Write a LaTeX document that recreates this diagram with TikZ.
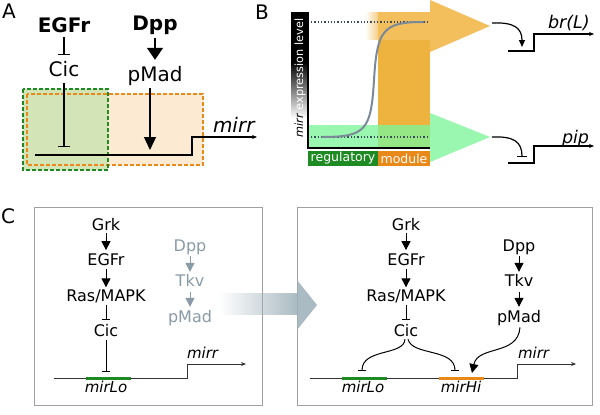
\documentclass[tikz,border=0pt]{standalone}
\usepackage{fontspec}
\setmainfont{DejaVu Sans}[ItalicFont={DejaVu Sans Oblique},BoldFont={DejaVu Sans Bold}]
\usetikzlibrary{arrows.meta,shadows,fadings}
\tikzfading[name=fadeinright, left color=transparent!100, right color=transparent!0]
\definecolor{boxgreen}{HTML}{D3E5B6}
\definecolor{boxorange}{HTML}{FCEBD2}
\definecolor{dgreen}{HTML}{1E8A22}
\definecolor{dorange}{HTML}{E8891A}
\definecolor{arrOrange}{HTML}{F3BE5C}
\definecolor{bandOrange}{HTML}{EDB33E}
\definecolor{arrGreen}{HTML}{7DF59A}
\definecolor{curvegray}{HTML}{7A8A98}
\definecolor{dotcol}{HTML}{3A4A5A}
\definecolor{softgray}{HTML}{8A9BA8}
\definecolor{bigarrow}{HTML}{9DB0B9}
\definecolor{boxline}{HTML}{A0A0A0}
\definecolor{geneC}{HTML}{333333}
\begin{document}
\begin{tikzpicture}[x=1pt,y=-1pt,
  every node/.style={inner sep=0pt,outer sep=0pt},
  panel/.style={font=\fontsize{20}{24}\selectfont},
  fA/.style={font=\fontsize{20}{24}\selectfont,anchor=base},
  fAb/.style={font=\fontsize{20}{24}\selectfont\bfseries,anchor=base},
  fAi/.style={font=\fontsize{20}{24}\selectfont\itshape,anchor=base west},
  fBi/.style={font=\fontsize{17.5}{21}\selectfont\itshape,anchor=base west},
  fC/.style={font=\fontsize{16}{19}\selectfont,anchor=base},
  fCi/.style={font=\fontsize{15}{18}\selectfont\itshape,anchor=base},
  fCg/.style={fC,text=softgray},
  actA/.style={line width=1.3pt,-{Triangle[length=12pt,width=16pt]}},
  actA2/.style={line width=1.3pt,-{Triangle[length=13pt,width=12pt]}},
  inhA/.style={line width=1.3pt,-{Bar[width=12pt,line width=1.3pt]}},
  actC/.style={line width=1pt,-{Triangle[length=9pt,width=9pt]}},
  inhC/.style={line width=1pt,-{Bar[width=8pt,line width=1pt]}},
  geneA/.style={line width=1.3pt},
  geneB/.style={line width=1.2pt,-{Stealth[length=5pt,width=4pt]}},
  geneCs/.style={line width=0.9pt,geneC,-{Stealth[length=5pt,width=4pt]}},
  cbox/.style={draw=boxline,line width=0.8pt,fill=white,drop shadow={opacity=0.25,shadow xshift=1.2pt,shadow yshift=-1.2pt}},
  dotl/.style={dotted,line width=1.3pt,dotcol},
  seg/.style={line width=3pt,line cap=butt},
  dashbox/.style={line width=1.4pt,dash pattern=on 4pt off 2pt}
]
\useasboundingbox (0,0) rectangle (600,415);
\fill[white] (0,0) rectangle (600,415);

%% ---------------- Panel A ----------------
\node[panel] (labA) at (9,11) {A};
\fill[boxgreen] (23,89) rectangle (108,170);
\fill[boxorange] (108,94) rectangle (203,165);
\draw[dorange,dashbox] (27,94) rectangle (203,165);
\draw[dgreen,dashbox] (23,89) rectangle (108,170);

\node[fAb] (egfrA) at (64,32) {EGFr};
\node[fA] (cicA) at (64,76) {Cic};
\node[fAb] (dppA) at (155,30) {Dpp};
\node[fA] (pmadA) at (155,81) {pMad};
\node[fAi] (mirrA) at (213,132) {mirr};
\coordinate (cicAt) at (64,147);
\coordinate (pmadAt) at (150,150);
\coordinate (gA0) at (35,155);
\coordinate (gA1) at (192,137);
\coordinate (gA2) at (257,137);

\draw[inhA,shorten <=5pt,shorten >=6pt] (egfrA) -- (cicA);
\draw[actA,shorten <=4pt,shorten >=6pt] (dppA) -- (pmadA);
\draw[inhA] (cicA.south) ++(0,7) -- (cicAt);
\draw[actA2] (pmadA.south -| pmadAt) ++(0,3) -- (pmadAt);
\draw[geneA,-{Stealth[length=5pt,width=4pt]}] (gA0) -| (gA1) -- (gA2);

%% ---------------- Panel B ----------------
\node[panel] (labB) at (262,12) {B};
% orange band + arrow
\fill[bandOrange] (378,40) rectangle (430,148);
\fill[arrOrange] (378,12) -- (430,12) -- (430,0) -- (490,26) -- (430,52) -- (430,40) -- (378,40) -- cycle;
\foreach \i in {0,...,5} {
  \fill[arrOrange,opacity={0.06+0.12*\i}] ({366+2*\i},12) rectangle ({368+2*\i},40);
}
% green arrow
\fill[arrGreen,opacity=0.78] (308,125) -- (430,125) -- (430,113) -- (490,137) -- (430,162) -- (430,148) -- (308,148) -- cycle;
% dotted levels
\draw[dotl] (311,22) -- (428,22);
\draw[dotl] (311,137) -- (428,137);
% sigmoid
\draw[curvegray,line width=2pt,line cap=round] (322,137) .. controls (366,137) and (371,130) .. (374,80) .. controls (377,30) and (383,22) .. (423,22);
% y axis bar
\fill[black] (291,12) rectangle (308,62);
\shade[top color=black,bottom color=white] (291,62) rectangle (308,118);
\node[rotate=90,font=\fontsize{11.3}{13}\selectfont,text=white] (ylab) at (300,78) {{\color{black}\itshape mirr} expression level};
\draw[line width=1.5pt] (308,12) -- (308,148) -- (430,148);
% bottom bar
\node[fill=dgreen,text=white,minimum width=70pt,minimum height=15pt,anchor=north west,font=\fontsize{12.5}{14}\selectfont] (reg) at (308,151) {regulatory};
\node[fill=dorange,text=white,minimum width=52pt,minimum height=15pt,anchor=north west,font=\fontsize{12.5}{14}\selectfont] (mod) at (378,151) {module};
% targets
\coordinate (tipO) at (492,23);
\coordinate (tipG) at (492,137);
\coordinate (brT) at (522,47);
\coordinate (pipT) at (522,157);
\coordinate (brG0) at (508,51);
\coordinate (brG1) at (534,34);
\coordinate (brG2) at (594,34);
\coordinate (pipG0) at (508,163);
\coordinate (pipG1) at (534,146);
\coordinate (pipG2) at (594,146);
\node[fBi] (brL) at (548,28) {br(L)};
\node[fBi] (pip) at (562,143) {pip};
\draw[line width=1.2pt,-{Triangle[length=7pt,width=6pt]}] (tipO) .. controls (514,22) and (522,28) .. (brT);
\draw[line width=1.2pt,-{Bar[width=10pt,line width=1.2pt]}] (tipG) .. controls (514,136) and (522,142) .. (pipT);
\draw[geneB] (brG0) -| (brG1) -- (brG2);
\draw[geneB] (pipG0) -| (pipG1) -- (pipG2);

%% ---------------- Panel C ----------------
\node[panel] (labC) at (8,216) {C};
\draw[cbox] (34,207) rectangle (262,405);
\draw[cbox] (297,207) rectangle (592,405);

% left box
\node[fC] (grkL) at (106,230) {Grk};
\node[fC] (egfrL) at (106,265) {EGFr};
\node[fC] (rasL) at (106,301) {Ras/MAPK};
\node[fC] (cicL) at (106,336) {Cic};
\node[fCg] (dppL) at (190,251) {Dpp};
\node[fCg] (tkvL) at (190,286) {Tkv};
\node[fCg] (pmadL) at (190,322) {pMad};
\node[fCi] (mirLoL) at (106,392) {mirLo};
\node[fCi,anchor=base west] (mirrL) at (187,358) {mirr};
\coordinate (cicLt) at (106,372);
\coordinate (gL0) at (54,378);
\coordinate (gL1) at (187,364);
\coordinate (gL2) at (246,364);
\coordinate (sL0) at (86,378);
\coordinate (sL1) at (131,378);

\draw[actC,shorten <=3pt,shorten >=3pt] (grkL) -- (egfrL);
\draw[actC,shorten <=4pt,shorten >=2pt] (egfrL) -- (rasL);
\draw[inhC,shorten <=2.5pt,shorten >=4pt] (rasL) -- (cicL);
\draw[inhC] (cicL.south) ++(0,4) -- (cicLt);
\draw[actC,softgray,shorten <=2pt,shorten >=2pt] (dppL) -- (tkvL);
\draw[actC,softgray,shorten <=6pt,shorten >=3pt] (tkvL) -- (pmadL);
\draw[geneCs] (gL0) -| (gL1) -- (gL2);
\draw[seg,dgreen] (sL0) -- (sL1);

% right box
\node[fC] (grkR) at (406,230) {Grk};
\node[fC] (egfrR) at (406,265) {EGFr};
\node[fC] (rasR) at (406,301) {Ras/MAPK};
\node[fC] (cicR) at (406,336) {Cic};
\node[fC] (dppR) at (519,251) {Dpp};
\node[fC] (tkvR) at (519,286) {Tkv};
\node[fC] (pmadR) at (519,322) {pMad};
\node[fCi] (mirLoR) at (363,392) {mirLo};
\node[fCi] (mirHiR) at (461,392) {mirHi};
\node[fCi,anchor=base west] (mirrR) at (518,358) {mirr};
\coordinate (loT) at (362,371);
\coordinate (hiT) at (455,371);
\coordinate (pmT) at (472,373);
\coordinate (gR0) at (310,378);
\coordinate (gR1) at (517,364);
\coordinate (gR2) at (576,364);
\coordinate (sR0) at (342,378);
\coordinate (sR1) at (387,378);
\coordinate (sR2) at (439,378);
\coordinate (sR3) at (484,378);

\draw[actC,shorten <=3pt,shorten >=3pt] (grkR) -- (egfrR);
\draw[actC,shorten <=4pt,shorten >=2pt] (egfrR) -- (rasR);
\draw[inhC,shorten <=2.5pt,shorten >=4pt] (rasR) -- (cicR);
\draw[actC,shorten <=2pt,shorten >=2pt] (dppR) -- (tkvR);
\draw[actC,shorten <=6pt,shorten >=3pt] (tkvR) -- (pmadR);
\draw[inhC] ([xshift=-1pt]cicR.south) ++(0,3) .. controls (404,356) and (362,348) .. (loT);
\draw[inhC] ([xshift=2pt]cicR.south) ++(0,3) .. controls (412,356) and (455,348) .. (hiT);
\draw[actC] (pmadR.south) ++(1,2) .. controls (518,356) and (478,345) .. (pmT);
\draw[geneCs] (gR0) -| (gR1) -- (gR2);
\draw[seg,dgreen] (sR0) -- (sR1);
\draw[seg,dorange] (sR2) -- (sR3);

% big transition arrow
\fill[bigarrow,opacity=0.85,path fading=fadeinright] (220,293) rectangle (297,315);
\fill[bigarrow,opacity=0.85] (297,280) -- (317,305) -- (297,330) -- cycle;
\end{tikzpicture}
\end{document}
